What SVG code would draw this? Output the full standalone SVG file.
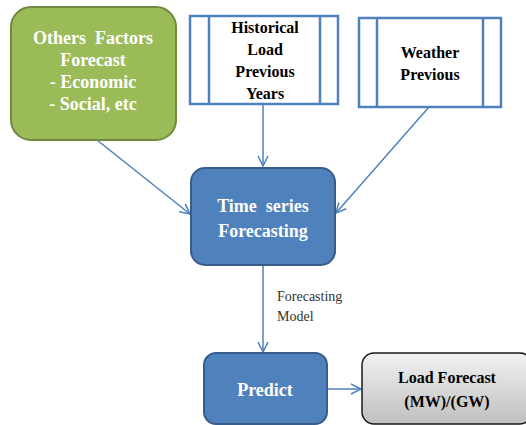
<svg xmlns="http://www.w3.org/2000/svg" width="526" height="425" viewBox="0 0 526 425">
<style>
text{font-family:'Liberation Serif','Times New Roman','DejaVu Serif',serif;white-space:pre}
.bf{font-weight:bold;text-anchor:middle}
.w{fill:#fff;font-size:18px}
.k{fill:#000;font-size:16px}
.blue{fill:#4F81BD;stroke:#385D8A;stroke-width:2}
.proc{fill:#fff;stroke:#4F81BD;stroke-width:2.5}
.conn{stroke:#4F81BD;stroke-width:1.5;fill:none}
.lbl{font-size:14px;fill:#333}
</style>
<defs>
<marker id="arr" viewBox="0 0 12 12" refX="11" refY="6" markerWidth="12" markerHeight="12" markerUnits="userSpaceOnUse" orient="auto">
<path d="M1,1 L11,6 L1,11" fill="none" stroke="#4F81BD" stroke-width="1.5"/>
</marker>
<linearGradient id="gray" x1="0" y1="0" x2="0" y2="1">
<stop offset="0" stop-color="#F2F2F2"/>
<stop offset="1" stop-color="#BFBFBF"/>
</linearGradient>
</defs>
<rect width="526" height="425" fill="#fff"/>
<g id="connectors">
<line class="conn" x1="97" y1="140" x2="190" y2="214" marker-end="url(#arr)"/>
<line class="conn" x1="263" y1="104" x2="263" y2="166" marker-end="url(#arr)"/>
<line class="conn" x1="429" y1="107" x2="336" y2="213" marker-end="url(#arr)"/>
<line class="conn" x1="263" y1="266" x2="263" y2="352" marker-end="url(#arr)"/>
<line class="conn" x1="327" y1="389" x2="361" y2="389" marker-end="url(#arr)"/>
<text class="lbl" x="277" y="301">Forecasting</text>
<text class="lbl" x="277" y="321">Model</text>
</g>
<g id="others">
<rect x="11" y="7" width="165" height="133" rx="20" fill="#9BBB59" stroke="#71893F" stroke-width="2"/>
<text class="bf w" x="93" y="44">Others  Factors</text>
<text class="bf w" x="93" y="66">Forecast</text>
<text class="bf w" x="93" y="88">- Economic</text>
<text class="bf w" x="93" y="110">- Social, etc</text>
</g>
<g id="historical">
<rect class="proc" x="190" y="16" width="148" height="88"/>
<line class="proc" x1="209" y1="16" x2="209" y2="104"/>
<line class="proc" x1="320" y1="16" x2="320" y2="104"/>
<text class="bf k" x="265" y="33">Historical</text>
<text class="bf k" x="265" y="55">Load</text>
<text class="bf k" x="265" y="77">Previous</text>
<text class="bf k" x="265" y="99">Years</text>
</g>
<g id="weather">
<rect class="proc" x="359" y="18" width="142" height="89"/>
<line class="proc" x1="377" y1="18" x2="377" y2="107"/>
<line class="proc" x1="483" y1="18" x2="483" y2="107"/>
<text class="bf k" x="430" y="58">Weather</text>
<text class="bf k" x="430" y="80">Previous</text>
</g>
<g id="timeseries">
<rect class="blue" x="191" y="168" width="144" height="97" rx="14"/>
<text class="bf w" x="263" y="212">Time  series</text>
<text class="bf w" x="263" y="237">Forecasting</text>
</g>
<g id="predict">
<rect class="blue" x="204" y="353" width="123" height="71" rx="12"/>
<text class="bf w" x="265" y="396">Predict</text>
</g>
<g id="loadforecast">
<rect x="362" y="353" width="170" height="71" rx="12" fill="url(#gray)" stroke="#1a1a1a" stroke-width="1.5"/>
<text class="bf k" x="447" y="383">Load Forecast</text>
<text class="bf k" x="447" y="407">(MW)/(GW)</text>
</g>
</svg>
